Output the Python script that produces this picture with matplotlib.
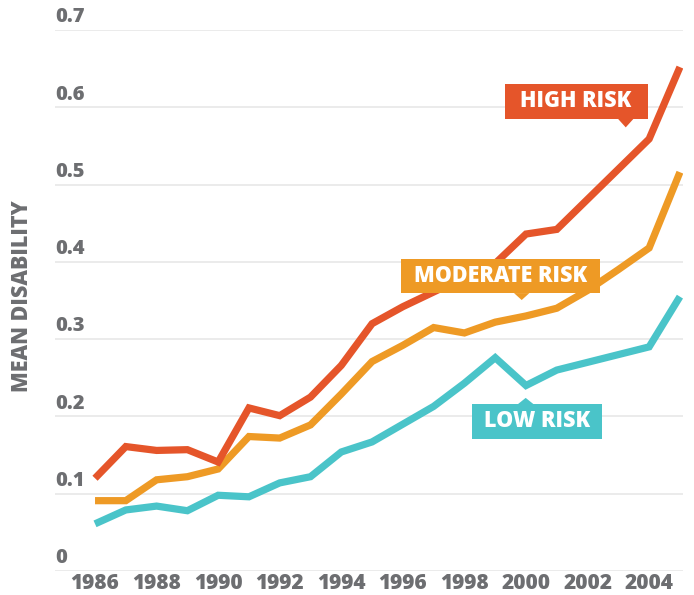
import matplotlib
matplotlib.use("Agg")
import matplotlib.pyplot as plt
from matplotlib.patches import Rectangle, Polygon

# data
years = list(range(1986, 2006))
high_risk = [0.120, 0.161, 0.156, 0.157, 0.141, 0.211, 0.201, 0.225, 0.266, 0.320,
             0.342, 0.361, 0.380, 0.398, 0.436, 0.442, 0.481, 0.520, 0.559, 0.652]
moderate_risk = [0.091, 0.091, 0.118, 0.122, 0.132, 0.174, 0.172, 0.189, 0.229, 0.271,
                 0.292, 0.315, 0.308, 0.322, 0.330, 0.340, 0.363, 0.390, 0.418, 0.516]
low_risk = [0.061, 0.079, 0.084, 0.078, 0.098, 0.096, 0.114, 0.122, 0.154, 0.167,
            0.190, 0.213, 0.243, 0.276, 0.240, 0.260, 0.270, 0.280, 0.290, 0.355]

y_ticks = [0, 0.1, 0.2, 0.3, 0.4, 0.5, 0.6, 0.7]
y_tick_labels = ["0", "0.1", "0.2", "0.3", "0.4", "0.5", "0.6", "0.7"]
x_ticks = list(range(1986, 2006, 2))

RED = "#E5552A"
ORANGE = "#EE9A25"
TEAL = "#4AC4C9"
GREY = "#6D6E71"
FONT = ["Open Sans", "DejaVu Sans"]
W = 800

fig = plt.figure(figsize=(6.94, 5.95), dpi=100)
ax = fig.add_axes([55 / 694, 24 / 595, 628 / 694, 541 / 595])

for vals, col in [(low_risk, TEAL), (moderate_risk, ORANGE), (high_risk, RED)]:
    ax.plot(years, vals, color=col, lw=5.2, solid_joinstyle="miter",
            solid_capstyle="butt", zorder=3)

ax.set_xlim(1984.7, 2005.1)
ax.set_ylim(0, 0.7)
ax.set_yticks(y_ticks)
ax.set_yticklabels([])
ax.tick_params(axis="y", length=0)
ax.grid(axis="y", color="#e6e6e6", lw=1.1, zorder=0)
ax.set_xticks(x_ticks)
ax.set_xticklabels([str(y) for y in x_ticks], fontfamily=FONT, fontweight=W,
                   fontsize=15, color=GREY)
ax.tick_params(axis="x", length=0, pad=1.5)
for s in ax.spines.values():
    s.set_visible(False)

for v, lab in zip(y_ticks, y_tick_labels):
    ax.annotate(lab, xy=(0, v), xycoords=("axes fraction", "data"),
                xytext=(0, 2), textcoords="offset points", ha="left", va="bottom",
                fontfamily=FONT, fontweight=W, fontsize=14.5, color=GREY)

fig.text(22 / 694, 1 - 296 / 595, "MEAN DISABILITY", rotation=90, ha="center",
         va="center", fontfamily=FONT, fontweight=W, fontsize=15.5, color=GREY)


def tag(text, x0, x1, y0, y1, px, tip, col):
    # box with a little pointer triangle
    ax.add_patch(Rectangle((x0, y0), x1 - x0, y1 - y0, color=col, zorder=5, lw=0))
    base = y0 if tip < y0 else y1
    ax.add_patch(Polygon([(px - 0.25, base), (px + 0.25, base), (px, tip)],
                         closed=True, color=col, zorder=5, lw=0))
    ax.text((x0 + x1) / 2, (y0 + y1) / 2, text, ha="center", va="center",
            color="white", fontfamily=FONT, fontweight=W, fontsize=15.5, zorder=6)


tag("HIGH RISK", 1999.31, 2003.95, 0.585, 0.630, 2003.24, 0.574, RED)
tag("MODERATE RISK", 1995.94, 2002.40, 0.3596, 0.4036, 1999.86, 0.3506, ORANGE)
tag("LOW RISK", 1998.24, 2002.46, 0.171, 0.216, 1999.99, 0.224, TEAL)

fig.savefig("out.png", dpi=100)
